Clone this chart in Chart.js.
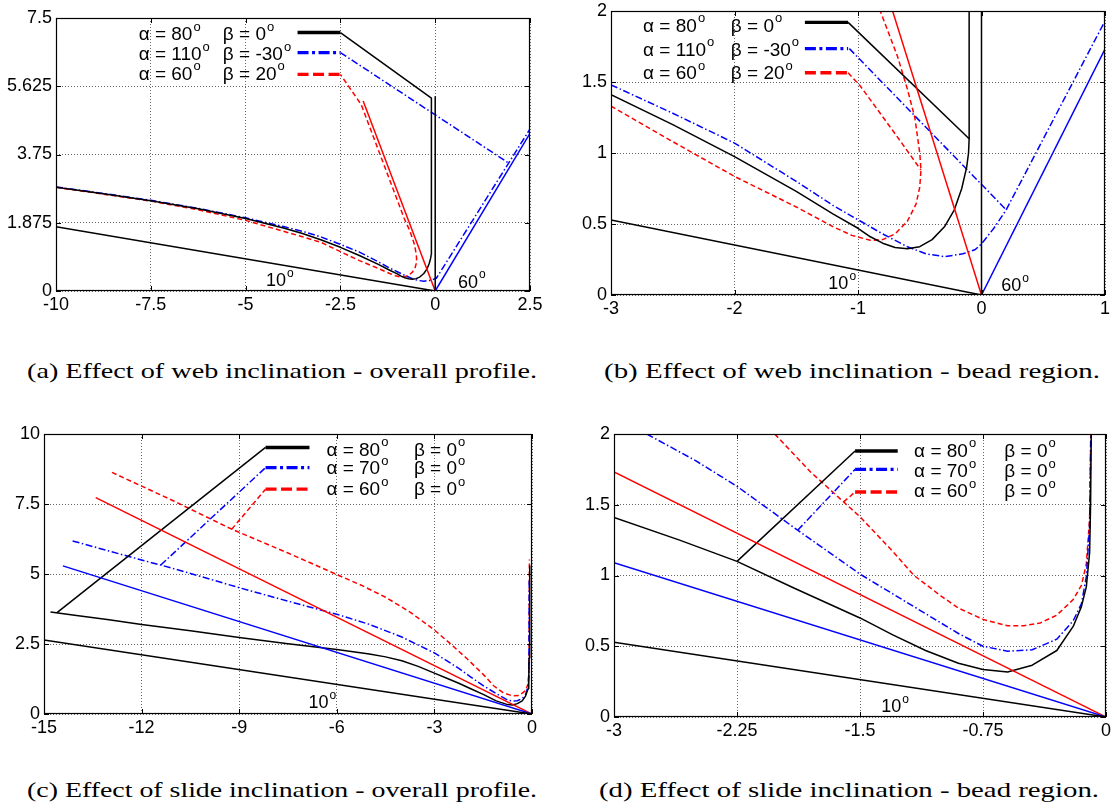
<!DOCTYPE html>
<html><head><meta charset="utf-8">
<script src="https://cdn.jsdelivr.net/npm/chart.js@4.4.1/dist/chart.umd.min.js"></script>
<style>
html,body{margin:0;padding:0;background:#fff}
body{width:1117px;height:809px;position:relative;overflow:hidden}
canvas{position:absolute;display:block}
.cap{position:absolute;font-family:"Liberation Serif","DejaVu Serif",serif;font-size:21px;line-height:22px;white-space:nowrap;transform-origin:0 50%;color:#000}
</style></head><body>
<canvas id="ca" width="558" height="330" style="left:0;top:0"></canvas>
<canvas id="cb" width="559" height="330" style="left:558px;top:0"></canvas>
<canvas id="cc" width="558" height="330" style="left:0;top:420px"></canvas>
<canvas id="cd" width="559" height="330" style="left:558px;top:420px"></canvas>
<div class="cap" data-w="510" style="left:27px;top:360px">(a) Effect of web inclination - overall profile.</div>
<div class="cap" data-w="496" style="left:604px;top:360px">(b) Effect of web inclination - bead region.</div>
<div class="cap" data-w="510" style="left:27px;top:779px">(c) Effect of slide inclination - overall profile.</div>
<div class="cap" data-w="500" style="left:599px;top:779px">(d) Effect of slide inclination - bead region.</div>
<script>
// ================= DATA =================
// ---- (a) web inclination, overall profile ----
const aXTicks = [-10, -7.5, -5, -2.5, 0, 2.5];
const aXLabels = ['-10', '-7.5', '-5', '-2.5', '0', '2.5'];
const aYTicks = [0, 1.875, 3.75, 5.625, 7.5];
const aYLabels = ['0', '1.875', '3.75', '5.625', '7.5'];
const aRef10 = [[-10, 1.763], [0, 0]];
const aRef60 = [[0, 0], [2.5, 4.33]];
const aBlackWall = [[0, 0], [0, 5.35]];
const aRedSlide = [[0, 0], [-1.9, 5.22]];
const aBlack = [[-10,2.85],[-8.75,2.67],[-7.5,2.48],[-6.25,2.26],[-5,1.99],[-4,1.73],[-3.5,1.58],[-3,1.4],[-2.5,1.2],[-2,0.975],[-1.5,0.73],[-1.2,0.57],[-1,0.47],[-0.9,0.41],[-0.8,0.365],[-0.7,0.335],[-0.6,0.325],[-0.5,0.34],[-0.4,0.39],[-0.3,0.48],[-0.22,0.6],[-0.16,0.75],[-0.12,0.9],[-0.105,1.0],[-0.1,1.1],[-0.1,5.3],[-2.5,7.1]];
const aBlue = [[-10,2.86],[-8.75,2.68],[-7.5,2.49],[-6.25,2.27],[-5,2.01],[-4,1.77],[-3.5,1.64],[-3,1.48],[-2.5,1.28],[-2,1.07],[-1.5,0.8],[-1.2,0.63],[-1,0.53],[-0.8,0.43],[-0.6,0.34],[-0.45,0.29],[-0.3,0.27],[-0.15,0.29],[-0.05,0.32],[0.03,0.35],[2.5,4.45]];
const aBlueConn = [[-2.5, 6.55], [1.93, 3.52]];
const aRed = [[-10,2.85],[-8.75,2.66],[-7.5,2.47],[-6.25,2.23],[-5,1.94],[-4,1.64],[-3.5,1.49],[-3,1.33],[-2.5,1.08],[-2,0.835],[-1.5,0.62],[-1.2,0.48],[-1.05,0.42],[-0.9,0.385],[-0.8,0.39],[-0.7,0.43],[-0.6,0.52],[-0.53,0.64],[-0.5,0.76],[-0.49,0.88],[-0.5,1.0],[-0.54,1.25],[-0.6,1.45],[-0.68,1.68],[-0.82,2.0],[-1.95,5.12],[-2.5,5.95]];
const aAlpha = ['80', '110', '60'];
const aBeta = ['0', '-30', '20'];

// ---- (b) web inclination, bead region ----
const bXTicks = [-3, -2, -1, 0, 1];
const bXLabels = ['-3', '-2', '-1', '0', '1'];
const bYTicks = [0, 0.5, 1, 1.5, 2];
const bYLabels = ['0', '0.5', '1', '1.5', '2'];
const bRef10 = [[-3, 0.529], [0, 0]];
const bRef60 = [[0, 0], [1, 1.732]];
const bBlackWall = [[0, 0], [0, 2]];
const bRedSlide = [[0, 0], [-0.72, 2]];
const bBlack = [[-3,1.41],[-2.5,1.2],[-2,0.975],[-1.5,0.73],[-1.2,0.57],[-1,0.47],[-0.9,0.41],[-0.8,0.365],[-0.7,0.335],[-0.6,0.325],[-0.5,0.34],[-0.4,0.39],[-0.3,0.48],[-0.22,0.6],[-0.16,0.75],[-0.12,0.9],[-0.105,1.0],[-0.1,1.1],[-0.1,2]];
const bBlackConn = [[-1.08, 1.92], [-0.1, 1.1]];
const bBlue = [[-3,1.48],[-2.5,1.28],[-2,1.07],[-1.5,0.8],[-1.2,0.63],[-1,0.53],[-0.8,0.43],[-0.6,0.34],[-0.45,0.29],[-0.3,0.27],[-0.15,0.29],[-0.05,0.32],[0,0.36],[0.1,0.47],[0.2,0.6],[1,1.93]];
const bBlueConn = [[-1.07, 1.735], [0.2, 0.6]];
const bRed = [[-3,1.33],[-2.5,1.08],[-2,0.835],[-1.5,0.62],[-1.2,0.48],[-1.05,0.42],[-0.9,0.385],[-0.8,0.39],[-0.7,0.43],[-0.6,0.52],[-0.53,0.64],[-0.5,0.76],[-0.49,0.88],[-0.5,1.0],[-0.54,1.25],[-0.6,1.45],[-0.68,1.68],[-0.82,2.0]];
const bRedConn = [[-1.08,1.565],[-0.98,1.47],[-0.72,1.16],[-0.49,0.88]];
const bAlpha = ['80', '110', '60'];
const bBeta = ['0', '-30', '20'];

// ---- (c) slide inclination, overall profile ----
const cXTicks = [-15, -12, -9, -6, -3, 0];
const cXLabels = ['-15', '-12', '-9', '-6', '-3', '0'];
const cYTicks = [0, 2.5, 5, 7.5, 10];
const cYLabels = ['0', '2.5', '5', '7.5', '10'];
const cRef10 = [[-15, 2.645], [0, 0]];
const cBlueSlide = [[-14.42, 5.29], [0, 0]];
const cRedSlide = [[-13.41, 7.73], [0, 0]];
const cBlack = [[-14.8,3.64],[-14,3.52],[-13,3.37],[-12,3.2],[-10.5,2.97],[-9,2.73],[-7.5,2.51],[-6,2.3],[-5.5,2.22],[-5,2.14],[-4.5,2.04],[-4,1.9],[-3.5,1.7],[-3,1.46],[-2.6,1.27],[-2.25,1.1],[-1.9,0.91],[-1.5,0.7],[-1.1,0.47],[-0.75,0.335],[-0.6,0.32],[-0.45,0.37],[-0.3,0.47],[-0.2,0.64],[-0.12,0.9],[-0.1,1.16],[-0.09,2],[-0.07,5.3]];
const cBlackConn = [[-14.6, 3.62], [-8.19, 9.52]];
const cBlue = [[-14.12,6.18],[-13,5.82],[-12,5.5],[-11.41,5.32],[-10.5,5.02],[-9,4.51],[-7.5,4.03],[-6,3.56],[-5,3.2],[-4,2.75],[-3,2.18],[-2.25,1.63],[-1.88,1.32],[-1.5,1.01],[-1.1,0.73],[-0.75,0.5],[-0.6,0.465],[-0.45,0.475],[-0.3,0.55],[-0.2,0.68],[-0.12,0.99],[-0.1,1.35],[-0.093,2],[-0.085,4.8]];
const cBlueConn = [[-11.41, 5.32], [-8.19, 8.8]];
const cRed = [[-12.91,8.63],[-11,7.6],[-9.23,6.6],[-7.5,5.75],[-6,4.98],[-5.25,4.6],[-4.5,4.17],[-3.75,3.64],[-3,3.0],[-2.5,2.5],[-2.02,2.0],[-1.5,1.415],[-1.17,1.0],[-0.9,0.77],[-0.6,0.645],[-0.4,0.665],[-0.2,0.83],[-0.12,1.08],[-0.1,1.4],[-0.092,2],[-0.08,5.52]];
const cRedConn = [[-9.23, 6.6], [-8.19, 8.03]];
const cAlpha = ['80', '70', '60'];
const cBeta = ['0', '0', '0'];

// ---- (d) slide inclination, bead region ----
const dXTicks = [-3, -2.25, -1.5, -0.75, 0];
const dXLabels = ['-3', '-2.25', '-1.5', '-0.75', '0'];
const dYTicks = [0, 0.5, 1, 1.5, 2];
const dYLabels = ['0', '0.5', '1', '1.5', '2'];
const dRef10 = [[-3, 0.529], [0, 0]];
const dBlueSlide = [[-3, 1.09], [0, 0]];
const dRedSlide = [[-3, 1.732], [0, 0]];
const dBlack = [[-3,1.41],[-2.6,1.25],[-2.25,1.1],[-1.9,0.91],[-1.5,0.7],[-1.3,0.58],[-1.1,0.47],[-0.9,0.38],[-0.75,0.335],[-0.6,0.318],[-0.45,0.366],[-0.3,0.47],[-0.2,0.64],[-0.15,0.78],[-0.12,0.92],[-0.1,1.16],[-0.094,1.5],[-0.09,2.0]];
const dBlackConn = [[-2.25, 1.1], [-1.53, 1.88]];
const dBlue = [[-2.8,2.0],[-2.5,1.81],[-2.25,1.63],[-1.88,1.32],[-1.5,1.01],[-1.3,0.87],[-1.1,0.73],[-0.9,0.59],[-0.75,0.5],[-0.6,0.465],[-0.45,0.475],[-0.3,0.55],[-0.2,0.68],[-0.15,0.8],[-0.12,0.99],[-0.1,1.35],[-0.093,2.0]];
const dBlueConn = [[-1.88, 1.32], [-1.53, 1.75]];
const dRed = [[-2.02,2.0],[-1.8,1.73],[-1.6,1.52],[-1.5,1.415],[-1.3,1.17],[-1.17,1.0],[-1.0,0.85],[-0.9,0.77],[-0.75,0.69],[-0.6,0.645],[-0.5,0.645],[-0.4,0.665],[-0.3,0.72],[-0.2,0.83],[-0.15,0.93],[-0.12,1.08],[-0.1,1.4],[-0.092,2.0]];
const dRedConn = [[-1.6, 1.52], [-1.53, 1.59]];
const dAlpha = ['80', '70', '60'];
const dBeta = ['0', '0', '0'];

// ================= STYLE / LAYOUT =================
const FONT = '"Liberation Sans", Arial, Helvetica, sans-serif';
const BLK = '#000000', BLU = '#0000ff', RED = '#ff0000';
const THIN = 1.5;
const DASH = {solid: [], dd: [7, 2.5, 1.5, 2.5], dash: [5, 3]};
const LDASH = {solid: [], dd: [11, 3.5, 3, 3.5], dash: [11, 4.5]};

function ds(data, color, style, w) {
  return {
    data: data.map(([x, y]) => ({x, y})),
    borderColor: color, backgroundColor: color,
    borderWidth: w || THIN, borderDash: DASH[style || 'solid'],
    pointRadius: 0, pointHoverRadius: 0, showLine: true, fill: false,
    tension: 0, borderJoinStyle: 'round', borderCapStyle: 'butt'
  };
}

const panels = [
  {id: 'ca', box: {l: 0, t: 0, w: 558, h: 330}, area: {l: 56, t: 18, r: 530, b: 291},
   x: [-10, 2.5], y: [0, 7.5], xt: aXTicks, xl: aXLabels, yt: aYTicks, yl: aYLabels,
   sets: [ds(aRef10, BLK), ds(aRef60, BLU), ds(aBlackWall, BLK), ds(aRedSlide, RED),
          ds(aBlack, BLK), ds(aBlue, BLU, 'dd'), ds(aBlueConn, BLU, 'dd'), ds(aRed, RED, 'dash')],
   notes: [{t: '10', x: -4.46, y: 0.27}, {t: '60', x: 0.6, y: 0.23}],
   leg: {sx: [-3.63, -2.5], sy: [7.1, 6.55, 5.95], ty: [7.03, 6.48, 5.95], ax: -7.82, bx: -5.6,
         alpha: aAlpha, beta: aBeta}},
  {id: 'cb', box: {l: 558, t: 0, w: 559, h: 330}, area: {l: 611, t: 11, r: 1105, b: 295},
   x: [-3, 1], y: [0, 2], xt: bXTicks, xl: bXLabels, yt: bYTicks, yl: bYLabels,
   sets: [ds(bRef10, BLK), ds(bRef60, BLU), ds(bBlackWall, BLK), ds(bRedSlide, RED),
          ds(bBlack, BLK), ds(bBlackConn, BLK), ds(bBlue, BLU, 'dd'), ds(bBlueConn, BLU, 'dd'),
          ds(bRed, RED, 'dash'), ds(bRedConn, RED, 'dash')],
   notes: [{t: '10', x: -1.24, y: 0.075}, {t: '60', x: 0.16, y: 0.06}],
   leg: {sx: [-1.43, -1.08], sy: [1.92, 1.735, 1.565], ty: [1.89, 1.72, 1.555], ax: -2.74, bx: -2.03,
         alpha: bAlpha, beta: bBeta}},
  {id: 'cc', box: {l: 0, t: 420, w: 558, h: 330}, area: {l: 44, t: 434, r: 532, b: 714},
   x: [-15, 0], y: [0, 10], xt: cXTicks, xl: cXLabels, yt: cYTicks, yl: cYLabels,
   sets: [ds(cRef10, BLK), ds(cBlueSlide, BLU), ds(cRedSlide, RED),
          ds(cBlack, BLK), ds(cBlackConn, BLK), ds(cBlue, BLU, 'dd'), ds(cBlueConn, BLU, 'dd'),
          ds(cRed, RED, 'dash'), ds(cRedConn, RED, 'dash')],
   notes: [{t: '10', x: -6.87, y: 0.39}],
   leg: {sx: [-8.19, -6.84], sy: [9.52, 8.8, 8.03], ty: [9.4, 8.75, 8.0], ax: -6.32, bx: -3.63,
         alpha: cAlpha, beta: cBeta}},
  {id: 'cd', box: {l: 558, t: 420, w: 559, h: 330}, area: {l: 614, t: 434, r: 1106, b: 717},
   x: [-3, 0], y: [0, 2], xt: dXTicks, xl: dXLabels, yt: dYTicks, yl: dYLabels,
   sets: [ds(dRef10, BLK), ds(dBlueSlide, BLU), ds(dRedSlide, RED),
          ds(dBlack, BLK), ds(dBlackConn, BLK), ds(dBlue, BLU, 'dd'), ds(dBlueConn, BLU, 'dd'),
          ds(dRed, RED, 'dash'), ds(dRedConn, RED, 'dash')],
   notes: [{t: '10', x: -1.37, y: 0.07}],
   leg: {sx: [-1.53, -1.27], sy: [1.88, 1.75, 1.59], ty: [1.875, 1.73, 1.59], ax: -1.17, bx: -0.62,
         alpha: dAlpha, beta: dBeta}}
];

const LEGSTYLE = [{c: BLK, s: 'solid'}, {c: BLU, s: 'dd'}, {c: RED, s: 'dash'}];

function degText(ctx, s, x, y, size) {
  ctx.font = size + 'px ' + FONT;
  ctx.textBaseline = 'middle'; ctx.textAlign = 'left'; ctx.fillStyle = '#000';
  ctx.fillText(s, x, y);
  const w = ctx.measureText(s).width;
  ctx.font = Math.round(size * 0.66) + 'px ' + FONT;
  ctx.fillText('o', x + w + 1, y - size * 0.42);
}

function decor(p) {
  return {
    id: 'decor_' + p.id,
    afterDraw(chart) {
      const ctx = chart.ctx, xs = chart.scales.x, ys = chart.scales.y, a = chart.chartArea;
      ctx.save();
      const L = p.leg;
      LEGSTYLE.forEach((st, i) => {
        ctx.beginPath();
        ctx.setLineDash(LDASH[st.s]);
        ctx.lineWidth = 3.4; ctx.strokeStyle = st.c; ctx.lineCap = 'butt';
        const yy = ys.getPixelForValue(L.sy[i]);
        ctx.moveTo(xs.getPixelForValue(L.sx[0]), yy);
        ctx.lineTo(xs.getPixelForValue(L.sx[1]), yy);
        ctx.stroke();
        ctx.setLineDash([]);
        const ty = ys.getPixelForValue(L.ty[i]);
        degText(ctx, '\u03b1 = ' + L.alpha[i], xs.getPixelForValue(L.ax), ty, 19);
        degText(ctx, '\u03b2 = ' + L.beta[i], xs.getPixelForValue(L.bx), ty, 19);
      });
      p.notes.forEach(n => degText(ctx, n.t, xs.getPixelForValue(n.x), ys.getPixelForValue(n.y), 18));
      ctx.setLineDash([]);
      ctx.lineWidth = 1.2; ctx.strokeStyle = '#000';
      ctx.strokeRect(a.left + 0.5, a.top + 0.5, a.right - a.left - 1, a.bottom - a.top - 1);
      ctx.lineWidth = 1;
      ctx.beginPath();
      p.xt.forEach(v => {
        const px = Math.round(xs.getPixelForValue(v)) + 0.5;
        ctx.moveTo(px, a.bottom); ctx.lineTo(px, a.bottom - 5);
        ctx.moveTo(px, a.top); ctx.lineTo(px, a.top + 5);
      });
      p.yt.forEach(v => {
        const py = Math.round(ys.getPixelForValue(v)) + 0.5;
        ctx.moveTo(a.left, py); ctx.lineTo(a.left + 5, py);
        ctx.moveTo(a.right, py); ctx.lineTo(a.right - 5, py);
      });
      ctx.stroke();
      ctx.restore();
    }
  };
}

function build(p) {
  const gridCol = 'rgba(0,0,0,0.6)';
  new Chart(document.getElementById(p.id), {
    type: 'scatter',
    data: {datasets: p.sets},
    plugins: [decor(p)],
    options: {
      responsive: false, animation: false, devicePixelRatio: 1,
      events: [],
      layout: {padding: {left: 0, bottom: 0, top: p.area.t - p.box.t, right: p.box.l + p.box.w - p.area.r}},
      plugins: {legend: {display: false}, tooltip: {enabled: false}, title: {display: false}},
      scales: {
        x: {
          type: 'linear', position: 'bottom', min: p.x[0], max: p.x[1],
          afterBuildTicks: s => { s.ticks = p.xt.map(v => ({value: v})); },
          afterFit: s => { s.height = p.box.t + p.box.h - p.area.b; s.paddingLeft = 0; s.paddingRight = 0; },
          ticks: {callback: (v, i) => p.xl[i], font: {family: FONT, size: 18}, color: '#000',
                  padding: 3, maxRotation: 0, minRotation: 0, autoSkip: false},
          grid: {color: gridCol, lineWidth: 1, drawTicks: false, tickLength: 0},
          border: {display: false, dash: [1, 2]}
        },
        y: {
          type: 'linear', position: 'left', min: p.y[0], max: p.y[1],
          afterBuildTicks: s => { s.ticks = p.yt.map(v => ({value: v})); },
          afterFit: s => { s.width = p.area.l - p.box.l; s.paddingTop = 0; s.paddingBottom = 0; },
          ticks: {callback: (v, i) => p.yl[i], font: {family: FONT, size: 18}, color: '#000',
                  padding: 4, autoSkip: false},
          grid: {color: gridCol, lineWidth: 1, drawTicks: false, tickLength: 0},
          border: {display: false, dash: [1, 2]}
        }
      }
    }
  });
}

panels.forEach(build);

function fitCaptions() {
  document.querySelectorAll('.cap').forEach(el => {
    el.style.transform = 'none';
    const w = el.getBoundingClientRect().width;
    const tw = +el.dataset.w;
    el.style.transform = 'scaleX(' + (tw / w).toFixed(4) + ')';
  });
}
fitCaptions();
if (document.fonts && document.fonts.ready) document.fonts.ready.then(fitCaptions);
</script>
</body></html>
